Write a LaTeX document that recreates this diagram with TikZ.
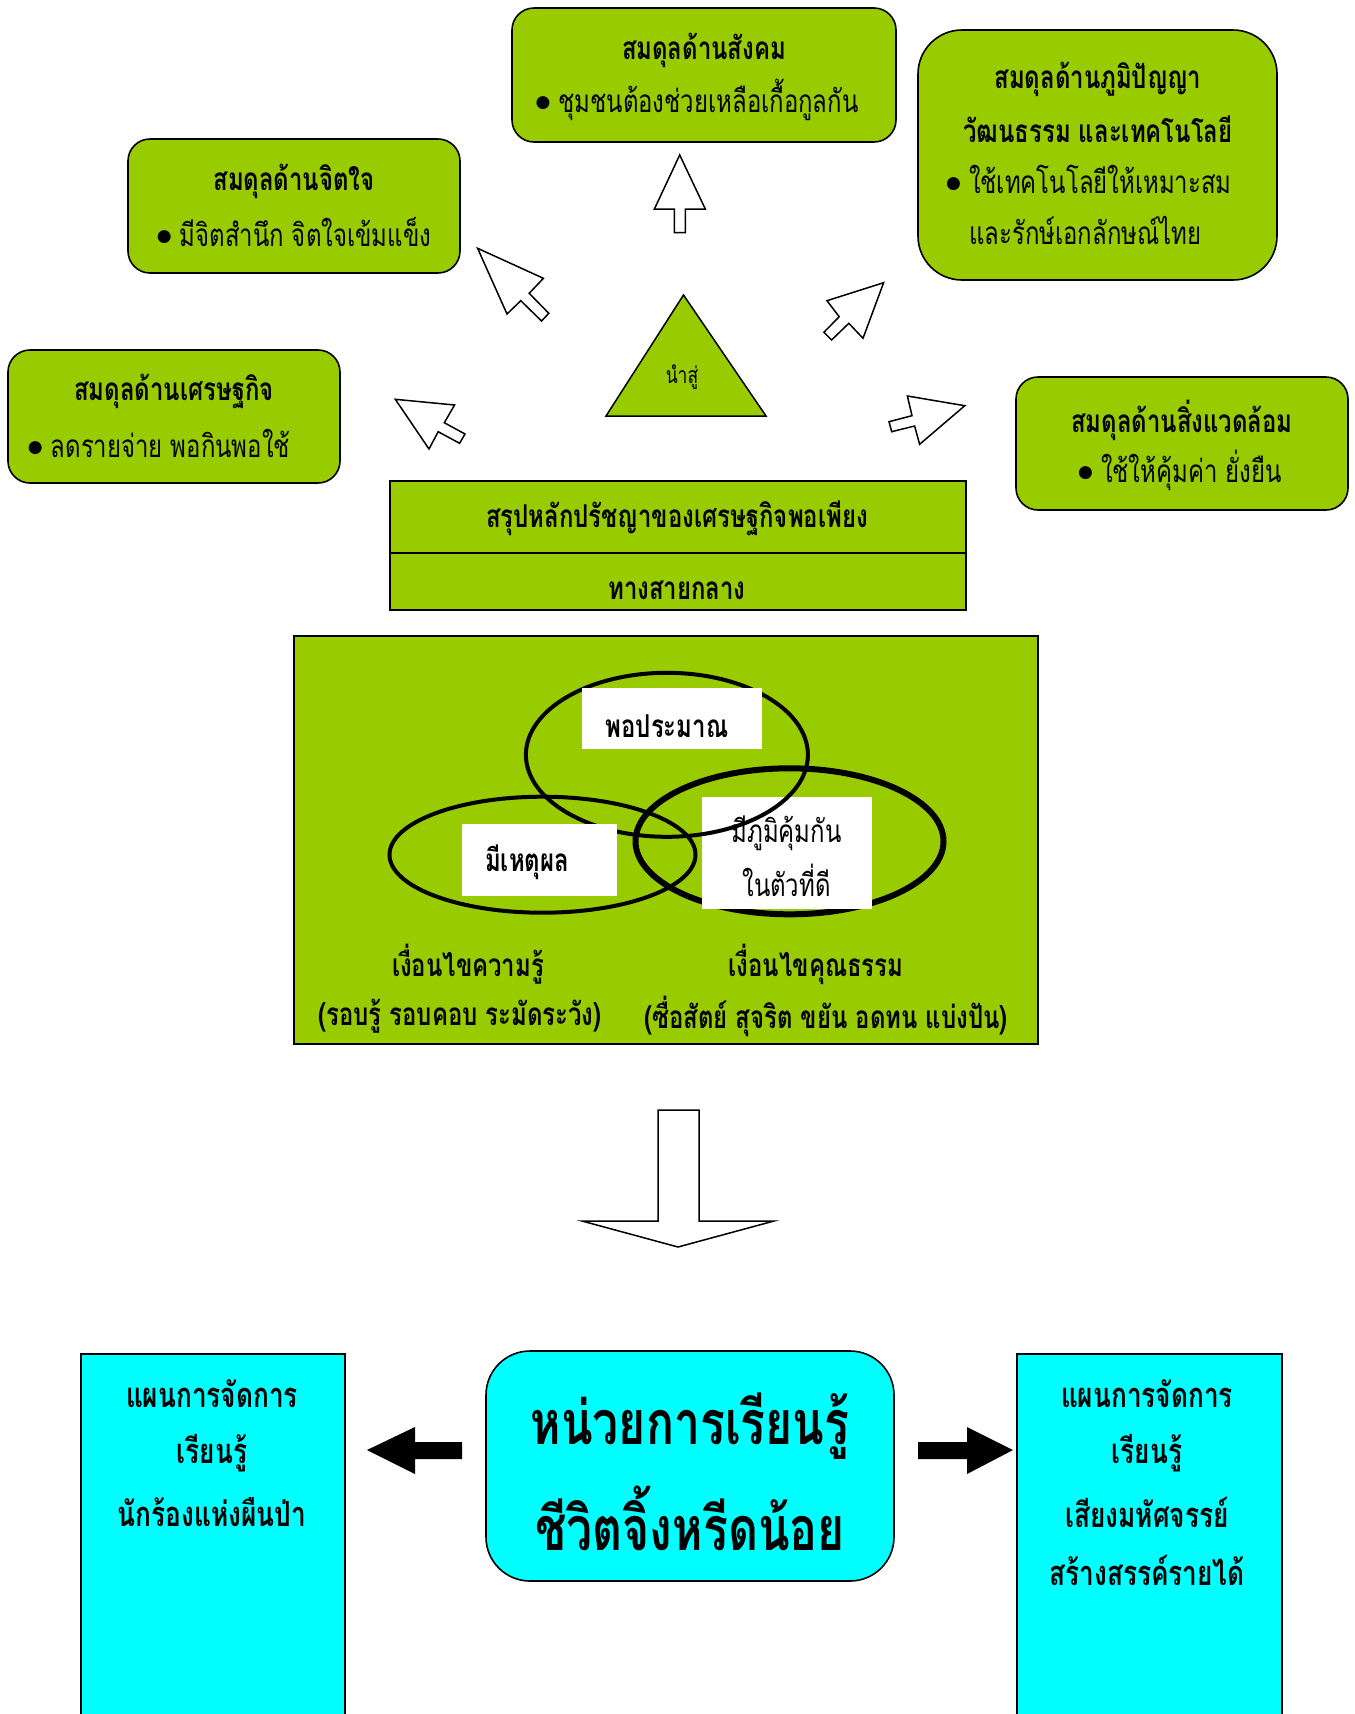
\documentclass[tikz,border=0pt]{standalone}
\usepackage{fontspec}
\newfontfamily\thai[Script=Thai,FakeStretch=0.76]{Loma}
\newfontfamily\dvs{DejaVu Sans}
\definecolor{lgreen}{HTML}{99CC00}
\definecolor{cyanb}{HTML}{00FFFF}
\newcommand{\bul}{\raisebox{5pt}{\dvs\fontsize{17}{17}\selectfont ●}\hspace{8pt}}
\tikzset{
  gbox/.style={draw=black,line width=1.6pt,fill=lgreen,rounded corners=22pt,inner sep=0pt},
  rbox/.style={draw=black,line width=1.6pt,fill=lgreen,inner sep=0pt},
  cbox/.style={draw=black,line width=1.6pt,fill=cyanb,inner sep=0pt},
  wbox/.style={fill=white,inner sep=0pt},
  ttl/.style={inner sep=0pt,font=\thai\bfseries\fontsize{31.5}{31.5}\selectfont},
  bod/.style={inner sep=0pt,font=\thai\fontsize{31.5}{31.5}\selectfont},
  big/.style={inner sep=0pt,font=\thai\bfseries\fontsize{61}{61}\selectfont},
  side/.style={inner sep=0pt,font=\thai\bfseries\fontsize{34.5}{34.5}\selectfont},
  cursor/.style={draw=black,fill=white,line width=1.5pt,line join=miter},
  venn/.style={draw=black,line width=4pt},
}
\begin{document}
\begin{tikzpicture}[x=1pt,y=-1pt]
\useasboundingbox (0,0) rectangle (1355,1714);
\clip (0,0) rectangle (1355,1714);
\fill[white] (0,0) rectangle (1355,1714);

% top boxes
\node[gbox,minimum width=384pt,minimum height=134pt] (soc) at (704,75) {};
\node[ttl] (socT) at (704,50) {สมดุลด้านสังคม};
\node[bod] (socB) at (697,100) {\bul ชุมชนต้องช่วยเหลือเกื้อกูลกัน};

\node[gbox,rounded corners=44pt,minimum width=359pt,minimum height=250pt] (wis) at (1097.5,155) {};
\node[ttl] (wisT1) at (1098,79) {สมดุลด้านภูมิปัญญา};
\node[ttl] (wisT2) at (1098,129) {วัฒนธรรม และเทคโนโลยี};
\node[bod,anchor=west] (wisB1) at (946,179) {\bul ใช้เทคโนโลยีให้เหมาะสม};
\node[bod,anchor=west] (wisB2) at (969,230) {และรักษ์เอกลักษณ์ไทย};

\node[gbox,minimum width=332pt,minimum height=134pt] (mind) at (294,206) {};
\node[ttl] (mindT) at (294,181) {สมดุลด้านจิตใจ};
\node[bod] (mindB) at (294,232) {\bul มีจิตสำนึก จิตใจเข้มแข็ง};

\node[gbox,minimum width=332pt,minimum height=133pt] (eco) at (174,416.5) {};
\node[ttl] (ecoT) at (174,391) {สมดุลด้านเศรษฐกิจ};
\node[bod] (ecoB) at (159,443) {\bul ลดรายจ่าย พอกินพอใช้};

\node[gbox,minimum width=332pt,minimum height=133pt] (env) at (1182,443.5) {};
\node[ttl] (envT) at (1182,420) {สมดุลด้านสิ่งแวดล้อม};
\node[bod] (envB) at (1180,470) {\bul ใช้ให้คุ้มค่า ยั่งยืน};

% triangle
\draw[draw=black,fill=lgreen,line width=1.5pt] (683.5,295) -- (766,416) -- (606,416) -- cycle;
\node[inner sep=0pt,font=\thai\fontsize{23}{23}\selectfont] (tri) at (682,377) {นำสู่};

% cursor arrows
\draw[cursor] (679.7,155) -- (705.3,209) -- (685.4,209) -- (685.4,232.7) -- (674.3,232.7) -- (674.3,209) -- (654.4,209) -- cycle;
\draw[cursor] (477.6,248.3) -- (543.4,278.3) -- (529.2,293.3) -- (548.8,313.3) -- (541.5,321) -- (520.8,300.7) -- (507,314) -- cycle;
\draw[cursor] (883.6,282.7) -- (863,338.3) -- (848.8,323.3) -- (831.6,340) -- (823.9,332.3) -- (839.2,316.7) -- (827,300.7) -- cycle;
\draw[cursor] (395.3,399.3) -- (454.6,405) -- (444.3,422.7) -- (465,434) -- (459.6,443.3) -- (438.2,431.7) -- (429,449) -- cycle;
\draw[cursor] (964.8,405.7) -- (919.6,444.3) -- (914.6,426) -- (891.7,431.7) -- (889,421.7) -- (912,415.7) -- (907.4,396) -- cycle;

% summary
\node[rbox,minimum width=576pt,minimum height=72pt] (sum1) at (678,517) {};
\node[rbox,minimum width=576pt,minimum height=57pt] (sum2) at (678,581.5) {};
\node[ttl] (sumT) at (677,518) {สรุปหลักปรัชญาของเศรษฐกิจพอเพียง};
\node[ttl] (sumB) at (677,590) {ทางสายกลาง};

% venn panel
\node[rbox,minimum width=744pt,minimum height=408pt] (panel) at (666,840) {};
\draw[draw=black,line width=6pt] (789.5,841.3) ellipse [x radius=154pt,y radius=73pt];
\node[wbox,minimum width=170pt,minimum height=112pt] (imm) at (787,853.3) {};
\draw[venn] (666.9,754.8) ellipse [x radius=141pt,y radius=82pt];
\draw[venn] (542.5,854.7) ellipse [x radius=153pt,y radius=58pt];
\node[wbox,minimum width=180pt,minimum height=61pt] (mod) at (672,718.3) {};
\node[wbox,minimum width=155pt,minimum height=72pt] (rea) at (539.7,860.3) {};
\node[ttl] (modT) at (667,726) {พอประมาณ};
\node[ttl] (reaT) at (527,862) {มีเหตุผล};
\node[bod] (immT1) at (786.5,833) {มีภูมิคุ้มกัน};
\node[bod] (immT2) at (786.5,880) {ในตัวที่ดี};
\node[ttl] (kn1) at (468,964) {เงื่อนไขความรู้};
\node[ttl] (kn2) at (460,1016) {(รอบรู้ รอบคอบ ระมัดระวัง)};
\node[ttl] (mo1) at (816,964) {เงื่อนไขคุณธรรม};
\node[ttl] (mo2) at (826,1016) {(ซื่อสัตย์ สุจริต ขยัน อดทน แบ่งปัน)};

% down arrow
\draw[draw=black,fill=white,line width=1.5pt] (658,1110) -- (699,1110) -- (699,1221) -- (774,1221) -- (678,1247) -- (582,1221) -- (658,1221) -- cycle;

% bottom
\node[cbox,minimum width=264pt,minimum height=400pt,anchor=north west] (lplan) at (80,1353) {};
\node[cbox,minimum width=265pt,minimum height=400pt,anchor=north west] (rplan) at (1016,1353) {};
\node[cbox,rounded corners=44pt,minimum width=408pt,minimum height=230pt] (unit) at (690,1466) {};
\node[big] (unitT1) at (690,1426) {หน่วยการเรียนรู้};
\node[big] (unitT2) at (690,1518) {ชีวิตจิ้งหรีดน้อย};

\node[side] (l1) at (212,1394) {แผนการจัดการ};
\node[side] (l2) at (212,1453) {เรียนรู้};
\node[side] (l3) at (212,1512) {นักร้องแห่งผืนป่า};
\node[side] (r1) at (1147,1394) {แผนการจัดการ};
\node[side] (r2) at (1147,1453) {เรียนรู้};
\node[side] (r3) at (1147,1512) {เสียงมหัศจรรย์};
\node[side] (r4) at (1147,1570) {สร้างสรรค์รายได้};

\fill[black] (367,1450) -- (415,1427) -- (415,1442) -- (462,1442) -- (462,1459) -- (415,1459) -- (415,1474) -- cycle;
\fill[black] (1013,1450) -- (967,1427) -- (967,1442) -- (918,1442) -- (918,1459) -- (967,1459) -- (967,1474) -- cycle;
\end{tikzpicture}
\end{document}
